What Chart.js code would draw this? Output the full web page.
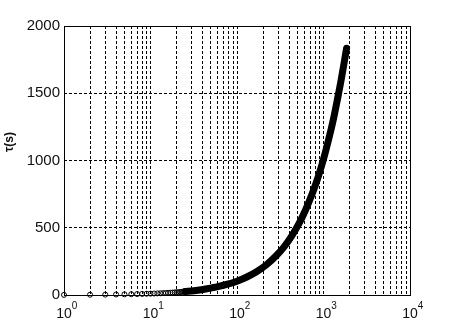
<!DOCTYPE html>
<html>
<head>
<meta charset="utf-8">
<script src="https://cdn.jsdelivr.net/npm/chart.js@4/dist/chart.umd.min.js"></script>
<style>
  html, body { margin: 0; padding: 0; background: #fff; }
  canvas { display: block; }
</style>
</head>
<body>
<canvas id="tauChart" width="454" height="320"></canvas>
<script>
// Individual samples (open circles) at small t
const circleT = [1, 2, 3, 4, 5, 6, 7, 8, 9, 10, 11, 12, 13, 14, 15, 16, 17, 18, 19, 20,
                 21, 22, 23, 24, 25, 26, 27, 28, 29, 30, 32, 34, 36, 38, 40];
const circleTau = [1, 2, 3, 4, 5, 6, 7, 8, 9, 10, 11, 12, 13, 14, 15, 16, 17, 18, 19, 20,
                   21, 22, 23, 24, 25, 26, 27, 28, 29, 30, 32, 34, 36, 38, 40];

// Dense part of the series, where the circles merge into a thick trace
const traceT = [25, 35, 45, 60, 80, 100, 130, 170, 220, 280, 350, 430, 520,
                620, 740, 870, 1000, 1150, 1300, 1450, 1600, 1730, 1850];
const traceTau = [26, 36, 47, 62, 82, 103, 134, 175, 226, 288, 358, 440, 530,
                  632, 752, 880, 1010, 1160, 1305, 1455, 1600, 1725, 1835];

// Axis ticks
const xDecades = [1, 10, 100, 1000, 10000];
const xExponents = ['0', '1', '2', '3', '4'];
const yTicks = [0, 500, 1000, 1500, 2000];

const labelFont = '14px "Liberation Sans", Arial, sans-serif';

// Box round the plot area, MATLAB style
const boxPlugin = {
    id: 'box',
    beforeDatasetsDraw(chart) {
        const { ctx, chartArea: a } = chart;
        ctx.save();
        ctx.strokeStyle = '#000';
        ctx.lineWidth = 1;
        ctx.strokeRect(Math.round(a.left) + 0.5, Math.round(a.top) + 0.5,
                       Math.round(a.right - a.left), Math.round(a.bottom - a.top));
        ctx.restore();
    }
};

// x labels as 10^n and the rotated y title
const labelPlugin = {
    id: 'labels',
    afterDraw(chart) {
        const { ctx } = chart;
        const xs = chart.scales.x;
        ctx.save();
        ctx.fillStyle = '#111';
        xDecades.forEach((v, i) => {
            const px = xs.getPixelForValue(v);
            ctx.font = labelFont;
            ctx.textAlign = 'center';
            ctx.textBaseline = 'alphabetic';
            ctx.fillText('10', px, 318);
            const w = ctx.measureText('10').width;
            ctx.font = '10px "Liberation Sans", Arial, sans-serif';
            ctx.textAlign = 'left';
            ctx.fillText(xExponents[i], px + w / 2, 309);
        });
        ctx.translate(10, 142);
        ctx.rotate(-Math.PI / 2);
        ctx.font = 'bold 12px "Liberation Sans", Arial, sans-serif';
        ctx.textAlign = 'center';
        ctx.textBaseline = 'middle';
        ctx.fillText('τ(s)', 0, 0);
        ctx.restore();
    }
};

new Chart(document.getElementById('tauChart'), {
    type: 'scatter',
    data: {
        datasets: [
            {
                data: traceT.map((t, i) => ({ x: t, y: traceTau[i] })),
                showLine: true,
                borderColor: '#000',
                borderWidth: 7,
                borderCapStyle: 'round',
                borderJoinStyle: 'round',
                pointRadius: 0,
                tension: 0.2
            },
            {
                data: circleT.map((t, i) => ({ x: t, y: circleTau[i] })),
                showLine: false,
                clip: false,
                pointStyle: 'circle',
                pointRadius: 2.5,
                pointBorderWidth: 1,
                pointBorderColor: '#000',
                pointBackgroundColor: 'rgba(255,255,255,0)'
            }
        ]
    },
    options: {
        responsive: false,
        animation: false,
        layout: { padding: { top: 26, right: 44, left: 0, bottom: 0 } },
        plugins: {
            legend: { display: false },
            tooltip: { enabled: false }
        },
        scales: {
            x: {
                type: 'logarithmic',
                min: 1,
                max: 10000,
                afterBuildTicks(scale) {
                    const ticks = [];
                    xDecades.forEach(d => {
                        for (let m = 1; m <= 9; m++) {
                            if (m * d <= 10000) ticks.push({ value: m * d });
                        }
                    });
                    scale.ticks = ticks;
                },
                afterFit(scale) { scale.height = 25; },
                ticks: { display: false, autoSkip: false },
                grid: { color: '#000', lineWidth: 1, drawTicks: false },
                border: { display: false, dash: [3, 2] }
            },
            y: {
                min: 0,
                max: 2000,
                afterBuildTicks(scale) {
                    scale.ticks = yTicks.map(v => ({ value: v }));
                },
                afterFit(scale) { scale.width = 64; },
                ticks: {
                    color: '#111',
                    font: { family: '"Liberation Sans", Arial, sans-serif', size: 15 },
                    padding: 4,
                    callback: v => String(v)
                },
                grid: { color: '#000', lineWidth: 1, drawTicks: false },
                border: { display: false, dash: [3, 2] }
            }
        }
    },
    plugins: [boxPlugin, labelPlugin]
});
</script>
</body>
</html>
